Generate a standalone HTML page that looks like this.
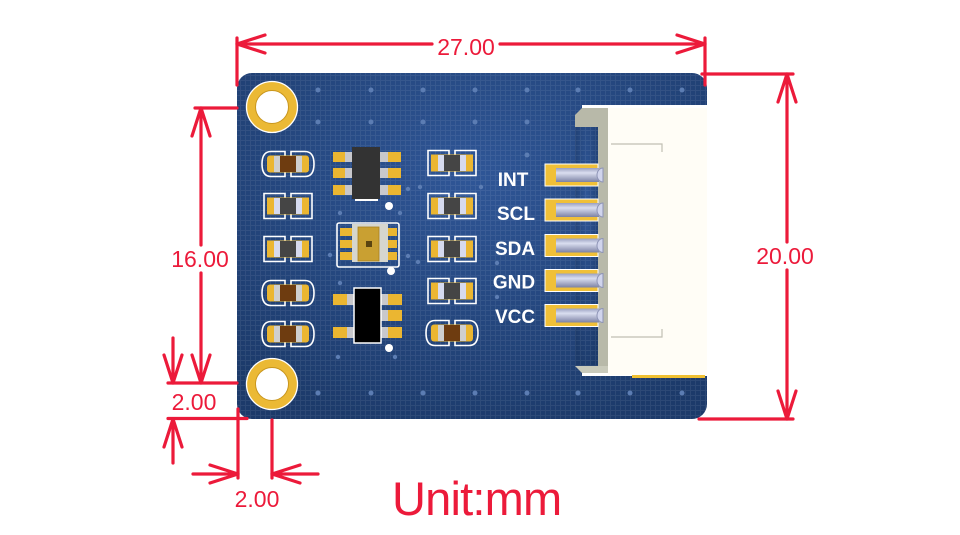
<!DOCTYPE html>
<html><head><meta charset="utf-8"><style>
html,body{margin:0;padding:0;background:#fff;width:960px;height:535px;overflow:hidden}
svg{display:block}
.t{font-family:"Liberation Sans",Arial,sans-serif;fill:#ec1a3a}
.l{font-family:"Liberation Sans",Arial,sans-serif;font-weight:bold;fill:#fff;font-size:19px}
</style></head><body>
<svg width="960" height="535" viewBox="0 0 960 535" xmlns="http://www.w3.org/2000/svg">
<defs>
<radialGradient id="bg" cx="50%" cy="30%" r="75%">
<stop offset="0" stop-color="#2f5697"/><stop offset="1" stop-color="#1c3a6a"/>
</radialGradient>
<pattern id="grid" width="5" height="5" patternUnits="userSpaceOnUse">
<path d="M0 0.5H5M0.5 0V5" stroke="#ffffff" stroke-opacity="0.07" stroke-width="1"/>
</pattern>
<linearGradient id="pin" x1="0" y1="0" x2="0" y2="1">
<stop offset="0" stop-color="#9aa0c0"/><stop offset="0.35" stop-color="#dadef0"/><stop offset="1" stop-color="#7c82a4"/>
</linearGradient>
<g id="R">
<path d="M-3,-7V-12.5H-24V12.5H-3V7M3,-7V-12.5H24V12.5H3V7" fill="none" stroke="#fff" stroke-width="1.6"/>
<rect x="-21" y="-8.5" width="42" height="17" fill="#ebb631"/>
<rect x="-14" y="-8" width="28" height="16" fill="#d6daee"/>
<rect x="-8" y="-8" width="16" height="16" fill="#454545"/>
</g>
<g id="C">
<path d="M-3,-7V-12.5H-17Q-26,-12.5 -26,0Q-26,12.5 -17,12.5H-3V7M3,-7V-12.5H17Q26,-12.5 26,0Q26,12.5 17,12.5H3V7" fill="none" stroke="#fff" stroke-width="1.6"/>
<rect x="-21" y="-8.5" width="42" height="17" rx="3" fill="#ebb631"/>
<rect x="-14" y="-8" width="28" height="16" fill="#cfcfcf"/>
<rect x="-8" y="-8" width="16" height="16" fill="#6e3c10"/>
</g>
</defs>

<!-- Board -->
<rect x="237" y="73" width="470" height="346" rx="15" fill="url(#bg)"/>
<rect x="237" y="73" width="470" height="346" rx="15" fill="url(#grid)"/>

<!-- vias / dots -->
<g fill="#5c7db3">
<circle cx="318" cy="90" r="2.5"/><circle cx="371" cy="90" r="2.5"/><circle cx="423" cy="90" r="2.5"/><circle cx="475" cy="90" r="2.5"/><circle cx="527" cy="90" r="2.5"/><circle cx="578" cy="90" r="2.5"/><circle cx="630" cy="90" r="2.5"/><circle cx="682" cy="90" r="2.5"/>
<circle cx="318" cy="122" r="2.5"/><circle cx="371" cy="122" r="2.5"/><circle cx="423" cy="122" r="2.5"/><circle cx="475" cy="122" r="2.5"/><circle cx="527" cy="122" r="2.5"/><circle cx="578" cy="122" r="2.5"/>
<circle cx="527" cy="155" r="2.5"/><circle cx="578" cy="155" r="2.5"/>
<circle cx="318" cy="393" r="2.5"/><circle cx="371" cy="393" r="2.5"/><circle cx="423" cy="393" r="2.5"/><circle cx="475" cy="393" r="2.5"/><circle cx="527" cy="393" r="2.5"/><circle cx="578" cy="393" r="2.5"/><circle cx="630" cy="393" r="2.5"/><circle cx="682" cy="393" r="2.5"/>
<circle cx="408" cy="189" r="2.2"/><circle cx="420" cy="187" r="2.2"/><circle cx="481" cy="187" r="2.2"/>
<circle cx="330" cy="255" r="2.2"/><circle cx="408" cy="256" r="2.2"/><circle cx="418" cy="262" r="2.2"/>
<circle cx="338" cy="357" r="2.2"/><circle cx="395" cy="357" r="2.2"/><circle cx="497" cy="263" r="2.2"/><circle cx="497" cy="297" r="2.2"/>
<circle cx="340" cy="213" r="2.2"/><circle cx="400" cy="213" r="2.2"/><circle cx="340" cy="283" r="2.2"/>
</g>

<!-- mounting holes -->
<circle cx="272" cy="107" r="25.5" fill="#ebb935" stroke="#fff" stroke-width="1.3"/>
<circle cx="272" cy="107" r="16.5" fill="#fff" stroke="#c9961e" stroke-width="1"/>
<circle cx="272" cy="384" r="25.5" fill="#ebb935" stroke="#fff" stroke-width="1.3"/>
<circle cx="272" cy="384" r="16.5" fill="#fff" stroke="#c9961e" stroke-width="1"/>

<!-- passives left -->
<use href="#C" x="288" y="164"/>
<use href="#R" x="288" y="206"/>
<use href="#R" x="288" y="249"/>
<use href="#C" x="288" y="293"/>
<use href="#C" x="288" y="334"/>
<!-- passives right -->
<use href="#R" x="452" y="163"/>
<use href="#R" x="452" y="206"/>
<use href="#R" x="452" y="249"/>
<use href="#R" x="452" y="291"/>
<use href="#C" x="452" y="333"/>

<!-- top IC -->
<g>
<rect x="333" y="152" width="19" height="10" fill="#ebb631"/><rect x="345" y="152" width="7" height="10" fill="#c8c8cc"/>
<rect x="333" y="168" width="19" height="10" fill="#ebb631"/><rect x="345" y="168" width="7" height="10" fill="#c8c8cc"/>
<rect x="333" y="185" width="19" height="10" fill="#ebb631"/><rect x="345" y="185" width="7" height="10" fill="#c8c8cc"/>
<rect x="380" y="152" width="21" height="10" fill="#ebb631"/><rect x="380" y="152" width="8" height="10" fill="#c8c8cc"/>
<rect x="380" y="168" width="21" height="10" fill="#ebb631"/><rect x="380" y="168" width="8" height="10" fill="#c8c8cc"/>
<rect x="380" y="185" width="21" height="10" fill="#ebb631"/><rect x="380" y="185" width="8" height="10" fill="#c8c8cc"/>
<rect x="352" y="147" width="28" height="52" fill="#333"/>
<rect x="355" y="199" width="23" height="2" fill="#fff"/>
<circle cx="389" cy="206" r="4" fill="#fff"/>
</g>

<!-- sensor -->
<g>
<rect x="337" y="223" width="62" height="44" rx="2" fill="none" stroke="#fff" stroke-width="1.6"/>
<rect x="340" y="228" width="14" height="8" fill="#ebb631"/><rect x="340" y="240" width="14" height="8" fill="#ebb631"/><rect x="340" y="252" width="14" height="8" fill="#ebb631"/>
<rect x="386" y="228" width="11" height="8" fill="#ebb631"/><rect x="386" y="240" width="11" height="8" fill="#ebb631"/><rect x="386" y="252" width="11" height="8" fill="#ebb631"/>
<rect x="352" y="224" width="36" height="38" fill="#d6d6ce"/>
<rect x="358" y="227" width="21" height="34" fill="#c9a032" stroke="#a88020" stroke-width="0.8"/>
<rect x="366" y="241" width="6" height="6" fill="#5a4410"/>
<circle cx="391" cy="271" r="4" fill="#fff"/>
</g>

<!-- bottom IC -->
<g>
<rect x="333" y="294" width="21" height="11" fill="#ebb631"/><rect x="347" y="294" width="7" height="11" fill="#c8c8cc"/>
<rect x="333" y="327" width="21" height="11" fill="#ebb631"/><rect x="347" y="327" width="7" height="11" fill="#c8c8cc"/>
<rect x="381" y="294" width="21" height="11" fill="#ebb631"/><rect x="381" y="294" width="7" height="11" fill="#c8c8cc"/>
<rect x="381" y="310" width="21" height="11" fill="#ebb631"/><rect x="381" y="310" width="7" height="11" fill="#c8c8cc"/>
<rect x="381" y="327" width="21" height="11" fill="#ebb631"/><rect x="381" y="327" width="7" height="11" fill="#c8c8cc"/>
<rect x="354" y="288" width="27" height="55" fill="#000" stroke="#fff" stroke-width="1.5"/>
<circle cx="389" cy="348" r="4" fill="#fff"/>
</g>

<!-- connector -->
<rect x="582" y="105" width="125" height="271" fill="#fff"/>
<rect x="608" y="108" width="99" height="267" fill="#fffdf6"/>
<rect x="575" y="127" width="23" height="239" fill="url(#bg)"/>
<rect x="575" y="127" width="23" height="239" fill="url(#grid)"/>
<polygon points="582,108 608,108 608,127 575,127 575,115" fill="#b8b9a9"/>
<rect x="598" y="127" width="10" height="240" fill="#b8b9a9"/>
<polygon points="575,366 608,366 608,373 582,373" fill="#c9cabb"/>
<rect x="632" y="375" width="73" height="3" fill="#f0c030"/>
<path d="M611,144H662V152M611,337H662V329" fill="none" stroke="#c0c0b4" stroke-width="1.2"/>

<!-- pins -->
<g>
<rect x="545" y="164" width="53" height="22" fill="#f0c038" stroke="#fff" stroke-width="1"/>
<rect x="545" y="199" width="53" height="22" fill="#f0c038" stroke="#fff" stroke-width="1"/>
<rect x="545" y="234.5" width="53" height="22" fill="#f0c038" stroke="#fff" stroke-width="1"/>
<rect x="545" y="269.5" width="53" height="22" fill="#f0c038" stroke="#fff" stroke-width="1"/>
<rect x="545" y="304.5" width="53" height="22" fill="#f0c038" stroke="#fff" stroke-width="1"/>
<rect x="556" y="168" width="43" height="14" fill="url(#pin)"/>
<rect x="556" y="203" width="43" height="14" fill="url(#pin)"/>
<rect x="556" y="238.5" width="43" height="14" fill="url(#pin)"/>
<rect x="556" y="273.5" width="43" height="14" fill="url(#pin)"/>
<rect x="556" y="308.5" width="43" height="14" fill="url(#pin)"/>
<g fill="#d0d4ec" stroke="#8e94b6" stroke-width="1">
<path d="M603,168A6,7 0 0 0 603,182Z"/>
<path d="M603,203A6,7 0 0 0 603,217Z"/>
<path d="M603,238.5A6,7 0 0 0 603,252.5Z"/>
<path d="M603,273.5A6,7 0 0 0 603,287.5Z"/>
<path d="M603,308.5A6,7 0 0 0 603,322.5Z"/>
</g>
</g>

<!-- pin labels -->
<text class="l" x="513" y="186" text-anchor="middle">INT</text>
<text class="l" x="516" y="220" text-anchor="middle">SCL</text>
<text class="l" x="515" y="255" text-anchor="middle">SDA</text>
<text class="l" x="514" y="288.5" text-anchor="middle">GND</text>
<text class="l" x="515" y="323" text-anchor="middle">VCC</text>

<!-- dimension lines -->
<g fill="none" stroke="#ec1a3a" stroke-width="3.2" stroke-linecap="round" stroke-linejoin="round">
<!-- top 27.00 -->
<path d="M237,38V85M705,38V85"/>
<path d="M237,44H432M500,44H705"/>
<polyline points="265,35 237,44 265,53"/>
<polyline points="677,35 705,44 677,53"/>
<!-- right 20.00 -->
<path d="M702,74H793M699,419H793"/>
<path d="M787,74V242M787,270V419"/>
<polyline points="778,102 787,74 796,102"/>
<polyline points="778,391 787,419 796,391"/>
<!-- left 16.00 -->
<path d="M195,108H237"/>
<path d="M201,108V245M201,273V383"/>
<polyline points="192,136 201,108 210,136"/>
<polyline points="192,355 201,383 210,355"/>
<path d="M168,383H237"/>
<!-- left 2.00 -->
<path d="M173,338V383"/>
<polyline points="164,355 173,383 182,355"/>
<path d="M168,418.5H247"/>
<path d="M173,419V463"/>
<polyline points="164,447 173,419 182,447"/>
<!-- bottom 2.00 -->
<path d="M238,409V478M272,420V478"/>
<path d="M193,474H238M318,474H272"/>
<polyline points="210,465 238,474 210,483"/>
<polyline points="300,465 272,474 300,483"/>
</g>

<!-- dimension labels -->
<text class="t" x="466" y="55" font-size="23" text-anchor="middle">27.00</text>
<text class="t" x="785" y="264" font-size="23" text-anchor="middle">20.00</text>
<text class="t" x="200" y="267" font-size="23" text-anchor="middle">16.00</text>
<text class="t" x="194" y="410" font-size="23" text-anchor="middle">2.00</text>
<text class="t" x="257" y="507" font-size="23" text-anchor="middle">2.00</text>
<text class="t" x="392" y="515" font-size="47" letter-spacing="-0.8">Unit:mm</text>
</svg>
</body></html>
